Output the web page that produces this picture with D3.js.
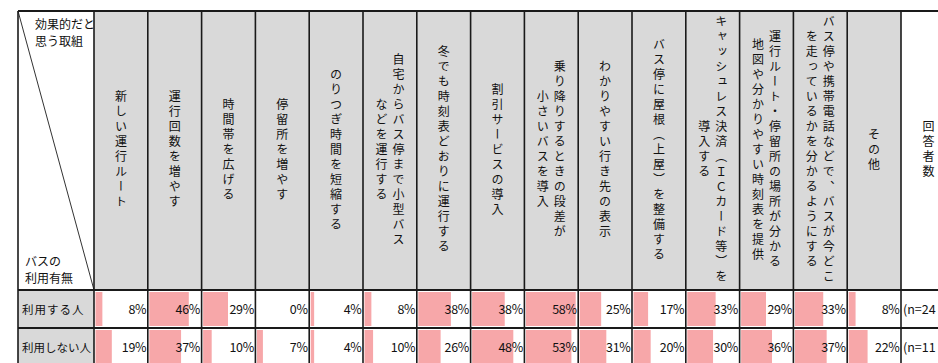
<!DOCTYPE html>
<html>
<head>
<meta charset="utf-8">
<script src="https://cdn.jsdelivr.net/npm/d3@7"></script>
<style>
  body { margin: 0; background: #fff; }
  svg text { font-family: "Noto Sans CJK JP", sans-serif; fill: #111; }
</style>
</head>
<body>
<svg id="chart" width="938" height="363"></svg>
<script>
// 取組 (each entry = lines of the vertical header, right line first)
const measures = [
  ["新しい運行ルート"],
  ["運行回数を増やす"],
  ["時間帯を広げる"],
  ["停留所を増やす"],
  ["のりつぎ時間を短縮する"],
  ["自宅からバス停まで小型バス", "などを運行する"],
  ["冬でも時刻表どおりに運行する"],
  ["割引サービスの導入"],
  ["乗り降りするときの段差が", "小さいバスを導入"],
  ["わかりやすい行き先の表示"],
  ["バス停に屋根（上屋）を整備する"],
  ["キャッシュレス決済（ＩＣカード等）を", "導入する"],
  ["運行ルート・停留所の場所が分かる", "地図や分かりやすい時刻表を提供"],
  ["バス停や携帯電話などで、バスが今どこ", "を走っているかを分かるようにする"],
  ["その他"]
];
const rowLabels = ["利用する人", "利用しない人"];
const users = [8, 46, 29, 0, 4, 8, 38, 38, 58, 25, 17, 33, 29, 33, 8];
const nonUsers = [19, 37, 10, 7, 4, 10, 26, 48, 53, 31, 20, 30, 36, 37, 22];
const nLabels = ["(n=24", "(n=11"];

function drawTable() {
  const svg = d3.select("#chart");
  const left = 18, labelRight = 94, dataRight = 901, nRight = 956;
  const top = 11, headBottom = 290, rowH = 38;
  const grey = "#d9d9d9", barColor = "#f7a7a9";

  const rows = [users, nonUsers];

  const x = d3.scaleBand()
    .domain(d3.range(measures.length))
    .range([labelRight, dataRight]);

  const y = d3.scaleBand()
    .domain(d3.range(rows.length))
    .range([headBottom, headBottom + rowH * rows.length]);

  const barW = d3.scaleLinear()
    .domain([0, d3.max(rows.flat())])
    .range([0, x.bandwidth() - 4]);

  // header backgrounds
  svg.append("g")
    .selectAll("rect")
    .data(measures)
    .enter()
    .append("rect")
    .attr("x", (d, i) => x(i))
    .attr("y", top)
    .attr("width", x.bandwidth())
    .attr("height", headBottom - top)
    .style("fill", grey);

  // row label backgrounds
  svg.append("g")
    .selectAll("rect")
    .data(rowLabels)
    .enter()
    .append("rect")
    .attr("x", left)
    .attr("y", (d, i) => y(i))
    .attr("width", labelRight - left)
    .attr("height", y.bandwidth())
    .style("fill", grey);

  // data bars
  rows.forEach((vals, r) => {
    svg.append("g")
      .selectAll("rect")
      .data(vals)
      .enter()
      .append("rect")
      .attr("x", (d, i) => x(i) + 1.5)
      .attr("y", y(r) + 2)
      .attr("width", (d) => barW(d))
      .attr("height", y.bandwidth() - 4)
      .style("fill", barColor);

    svg.append("g")
      .selectAll("text")
      .data(vals)
      .enter()
      .append("text")
      .attr("x", (d, i) => x(i) + x.bandwidth() - 1.5)
      .attr("y", y(r) + y.bandwidth() / 2 + 4.5)
      .attr("text-anchor", "end")
      .style("font-size", "12.5px")
      .style("letter-spacing", "-0.3px")
      .text((d) => d + "%");
  });

  // row labels
  svg.append("g")
    .selectAll("text")
    .data(rowLabels)
    .enter()
    .append("text")
    .attr("x", left + 4)
    .attr("y", (d, i) => y(i) + y.bandwidth() / 2 + 4.5)
    .style("font-size", "11.5px")
    .style("letter-spacing", (d) => d.length > 5 ? "0px" : "1px")
    .text((d) => d);

  // n labels
  svg.append("g")
    .selectAll("text")
    .data(nLabels)
    .enter()
    .append("text")
    .attr("x", dataRight + 2)
    .attr("y", (d, i) => y(i) + y.bandwidth() / 2 + 4.5)
    .style("font-size", "12.5px")
    .text((d) => d);

  // vertical header texts
  const lineGap = 17;
  measures.forEach((lines, i) => {
    const cx = x(i) + x.bandwidth() / 2;
    lines.forEach((t, j) => {
      svg.append("text")
        .attr("x", cx + ((lines.length - 1) / 2) * lineGap - j * lineGap)
        .attr("y", (top + headBottom) / 2)
        .attr("text-anchor", "middle")
        .style("writing-mode", "vertical-rl")
        .style("font-size", "12px")
        .style("letter-spacing", "3px")
        .text(t);
    });
  });

  svg.append("text")
    .attr("x", (dataRight + nRight) / 2)
    .attr("y", (top + headBottom) / 2)
    .attr("text-anchor", "middle")
    .style("writing-mode", "vertical-rl")
    .style("font-size", "12px")
    .style("letter-spacing", "3px")
    .text("回答者数");

  // corner cell
  svg.append("line")
    .attr("x1", left).attr("y1", top)
    .attr("x2", labelRight).attr("y2", headBottom)
    .attr("stroke", "#333")
    .attr("stroke-width", 1);

  svg.append("text").attr("x", left + 17).attr("y", top + 18)
    .style("font-size", "12px").text("効果的だと");
  svg.append("text").attr("x", left + 17).attr("y", top + 35)
    .style("font-size", "12px").text("思う取組");
  svg.append("text").attr("x", left + 7).attr("y", headBottom - 24)
    .style("font-size", "12px").text("バスの");
  svg.append("text").attr("x", left + 7).attr("y", headBottom - 7)
    .style("font-size", "12px").text("利用有無");

  // grid lines
  const vx = [left, labelRight].concat(d3.range(1, measures.length + 1).map((i) => x(i - 1) + x.bandwidth()));
  svg.append("g")
    .selectAll("line")
    .data(vx)
    .enter()
    .append("line")
    .attr("x1", (d) => d).attr("x2", (d) => d)
    .attr("y1", top).attr("y2", 363)
    .attr("stroke", "#1a1a1a")
    .attr("stroke-width", 1.6);

  const hy = [top, headBottom, y(1), y(1) + rowH];
  svg.append("g")
    .selectAll("line")
    .data(hy)
    .enter()
    .append("line")
    .attr("x1", left).attr("x2", 938)
    .attr("y1", (d) => d).attr("y2", (d) => d)
    .attr("stroke", "#1a1a1a")
    .attr("stroke-width", 1.8);
}

drawTable();
</script>
</body>
</html>
